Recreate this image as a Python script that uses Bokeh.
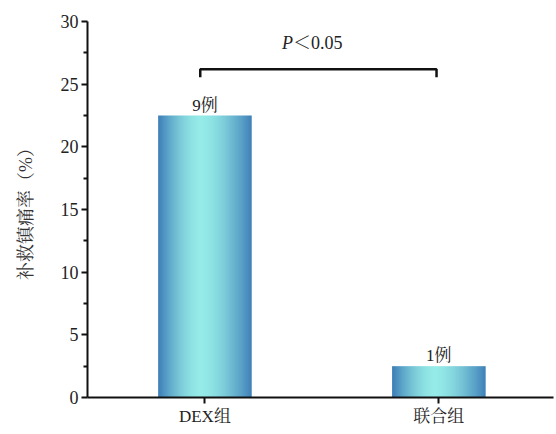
import numpy as np
from bokeh.plotting import figure
from bokeh.models import Range1d, FixedTicker
from bokeh.core.properties import value
from bokeh.embed import file_html
from bokeh.resources import INLINE

# ---- data ----
categories = ["DEX组", "联合组"]
rates = [22.5, 2.5]            # 补救镇痛率 (%)
case_labels = ["9例", "1例"]
y_ticks = [0, 5, 10, 15, 20, 25, 30]
p_label_italic = "P"
p_label_rest = "＜0.05"
bracket_level = 26.2

cat_x = [1, 2]
bar_width = 0.4

SERIF = "Liberation Serif, Noto Serif CJK SC, Noto Sans CJK SC"

p = figure(width=556, height=434, output_backend="svg", toolbar_location=None,
           x_range=Range1d(0.498, 2.49), y_range=Range1d(0, 30),
           min_border_left=87, min_border_right=3, min_border_top=21, min_border_bottom=37)
p.outline_line_color = None
p.xgrid.visible = False
p.ygrid.visible = False
p.background_fill_color = "white"

# ---- gradient bars (horizontal gradient image stretched over each bar) ----
blue = np.array([61, 126, 184])
cyan = np.array([150, 236, 232])
NPIX = 186
peak = 0.45
t = (np.arange(NPIX) + 0.5) / NPIX
d = np.where(t < peak, (t - peak) / peak, (t - peak) / (1 - peak))
f = 1 - np.abs(d) ** 1.6
rgb = (blue[None, :] + (cyan - blue)[None, :] * f[:, None]).astype(np.uint32)
row = (255 << 24) | (rgb[:, 2] << 16) | (rgb[:, 1] << 8) | rgb[:, 0]
grad = np.tile(row, (2, 1)).astype(np.uint32)

for xc, r in zip(cat_x, rates):
    p.image_rgba(image=[grad], x=xc - bar_width / 2, y=0, dw=bar_width, dh=r)

# ---- case labels ----
p.text(x=cat_x, y=rates, text=case_labels, text_align="center", text_baseline="bottom",
       y_offset=-1, text_font=value(SERIF), text_font_size="17px", text_color="#222222")

# ---- significance bracket ----
drop = 0.65
bx0, bx1 = cat_x[0] - 0.02, cat_x[1] - 0.01
p.line(x=[bx0, bx0, bx1, bx1],
       y=[bracket_level - drop, bracket_level, bracket_level, bracket_level - drop],
       line_color="#111111", line_width=2.5)

mid = (cat_x[0] + cat_x[1]) / 2
p.text(x=[mid], y=[28.3], text=[p_label_italic], text_align="right", text_baseline="middle",
       x_offset=-29, text_font=value("Liberation Serif"), text_font_style="italic",
       text_font_size="18px", text_color="#222222")
p.text(x=[mid], y=[28.3], text=[p_label_rest], text_align="left", text_baseline="middle",
       x_offset=-29, text_font=value(SERIF), text_font_size="18px", text_color="#222222")

# ---- axes ----
minor = [(a + b) / 2 for a, b in zip(y_ticks[:-1], y_ticks[1:])]
p.yaxis.ticker = FixedTicker(ticks=y_ticks, minor_ticks=minor)
p.yaxis.axis_label = "补救镇痛率（%）"
p.yaxis.axis_label_text_font = SERIF
p.yaxis.axis_label_text_font_style = "normal"
p.yaxis.axis_label_text_font_size = "18px"
p.yaxis.axis_label_text_color = "#333333"
p.yaxis.axis_label_standoff = 22

p.xaxis.ticker = FixedTicker(ticks=cat_x, minor_ticks=[])
p.xaxis.major_label_overrides = {x: c for x, c in zip(cat_x, categories)}

for ax in (p.xaxis, p.yaxis):
    ax.axis_line_width = 2
    ax.axis_line_color = "#111111"
    ax.major_tick_line_width = 2
    ax.major_tick_line_color = "#111111"
    ax.minor_tick_line_width = 2
    ax.minor_tick_line_color = "#111111"
    ax.major_tick_in = 0
    ax.major_tick_out = 6
    ax.minor_tick_in = 0
    ax.minor_tick_out = 4
    ax.major_label_text_font = SERIF
    ax.major_label_text_color = "#222222"
    ax.major_label_standoff = 3
p.yaxis.major_label_text_font_size = "18px"
p.xaxis.major_label_text_font_size = "17px"

open("out.html", "w").write(file_html(p, INLINE))
